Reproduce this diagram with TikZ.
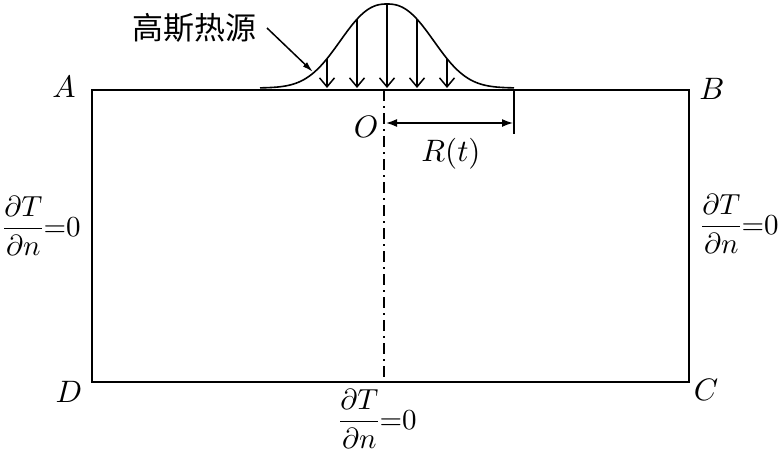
\documentclass[tikz,border=0pt]{standalone}
\usepackage{fix-cm}
\usepackage{amsmath}
\usepackage{fontspec}
\DeclareFontShape{OML}{cmm}{m}{it}{<->cmmi10}{}
\DeclareFontShape{OMS}{cmsy}{m}{n}{<->cmsy10}{}
\DeclareFontShape{OMX}{cmex}{m}{n}{<->cmex10}{}
\DeclareFontShape{OT1}{cmr}{m}{n}{<->cmr10}{}
\newfontfamily\cjk{Noto Sans CJK SC}
\usetikzlibrary{arrows.meta}
\newcommand{\pfrac}{$\dfrac{\partial T}{\partial n}{=}0$}
\tikzset{
  lbl/.style={inner sep=0pt, font=\fontsize{31}{37}\selectfont},
  frc/.style={inner sep=0pt, font=\fontsize{29}{35}\selectfont, anchor=base west},
  edge/.style={line width=2pt},
  load/.style={line width=1.5pt, -{Straight Barb[length=9pt,width=15pt,line width=1.5pt]}},
  axisline/.style={line width=1.5pt, dash pattern=on 11pt off 5pt on 2pt off 5pt},
}
\begin{document}
\begin{tikzpicture}[x=1pt,y=-1pt]
\useasboundingbox (0,0) rectangle (784,455);
% box corners
\coordinate (cA) at (92,90);
\coordinate (cB) at (689,90);
\coordinate (cC) at (689,382);
\coordinate (cD) at (92,382);
\draw[edge] (cA) -- (cB) -- (cC) -- (cD) -- cycle;
% centre line
\coordinate (ctop) at (384,90);
\coordinate (cbot) at (384,382);
\draw[axisline] (ctop) -- (cbot);
% heat source profile
\draw[line width=1.6pt] plot[domain=-127:127, samples=121, smooth] ({387+\x}, {88-84*exp(-0.5*(abs(\x/44)+0.0001)^2.4)});
% load arrows
\foreach \d [count=\i] in {-60,-30,0,30,60} {
  \coordinate (s\i) at ({387+\d}, {88-84*exp(-0.5*(abs(\d/44)+0.0001)^2.4)});
  \coordinate (e\i) at ({387+\d}, 88);
  \draw[load] (s\i) -- (e\i);
}
% radius
\coordinate (rtop) at (514,89);
\coordinate (rbot) at (514,134);
\draw[line width=1.6pt] (rtop) -- (rbot);
\coordinate (ra) at (386,123);
\coordinate (rb) at (513,123);
\draw[line width=1.5pt, {Latex[length=11pt,width=8pt]}-{Latex[length=11pt,width=8pt]}] (ra) -- (rb);
% labels
\node[lbl, anchor=base] (lA) at (64,97) {$A$};
\node[lbl, anchor=base] (lB) at (712,99) {$B$};
\node[lbl, anchor=base] (lC) at (706,400) {$C$};
\node[lbl, anchor=base] (lD) at (69,402) {$D$};
\node[lbl, anchor=base] (lO) at (366,137) {$O$};
\node[lbl, anchor=base] (lR) at (451,161) {$R(t)$};
\node[inner sep=0pt, font=\fontsize{31}{36}\selectfont\cjk] (src) at (194,28) {高斯热源};
\coordinate (lead1) at (267,28);
\coordinate (lead2) at (313,72);
\draw[line width=1.5pt, -{Latex[length=11pt,width=6pt]}] (lead1) -- (lead2);
% boundary conditions
\node[frc] (fl) at (3,236) {\pfrac};
\node[frc] (fr) at (701,234) {\pfrac};
\node[frc] (fb) at (339,429) {\pfrac};
\end{tikzpicture}
\end{document}
